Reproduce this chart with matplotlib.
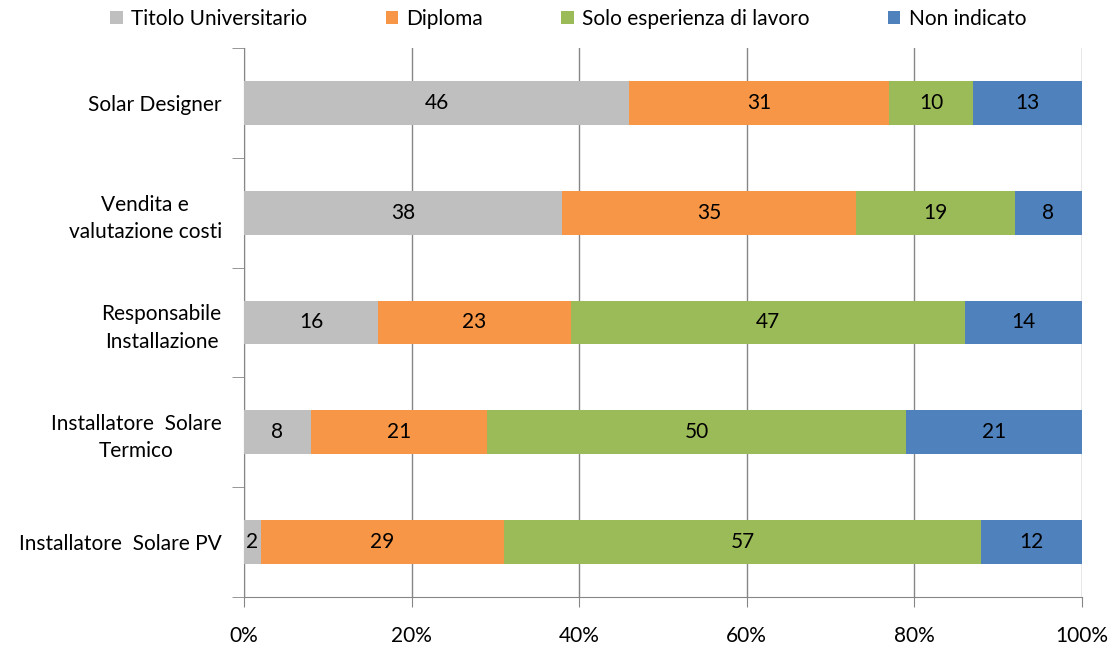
import matplotlib.pyplot as plt
import numpy as np

plt.rcParams['font.family'] = ['Lato', 'DejaVu Sans']

categories = ['Installatore  Solare PV', 'Installatore  Solare\nTermico', 'Responsabile\nInstallazione',
              'Vendita e\nvalutazione costi', 'Solar Designer']
series = ['Titolo Universitario', 'Diploma', 'Solo esperienza di lavoro', 'Non indicato']
universitario = [2, 8, 16, 38, 46]
diploma = [29, 21, 23, 35, 31]
esperienza = [57, 50, 47, 19, 10]
non_indicato = [12, 21, 14, 8, 13]
colors = ['#BFBFBF', '#F79646', '#9BBB59', '#4F81BD']

values = np.array([universitario, diploma, esperienza, non_indicato], dtype=float)

fig = plt.figure(figsize=(11.18, 6.47), dpi=100)
ax = fig.add_axes([0.2182, 0.0773, 0.7496, 0.8485])

y = np.arange(len(categories))
left = np.zeros(len(categories))
for i, name in enumerate(series):
    vals = values[i] / 100
    ax.barh(y, vals, left=left, height=0.4, color=colors[i], label=name, zorder=3)
    for j, v in enumerate(values[i]):
        ax.text(left[j] + vals[j] / 2, y[j], f'{int(v)}', ha='center', va='center',
                fontsize=15, color='black', zorder=4)
    left += vals

ax.set_xlim(0, 1)
ax.set_ylim(-0.5, len(categories) - 0.5)
ax.set_xticks(np.arange(0, 1.01, 0.2))
ax.set_xticklabels([f'{int(t * 100)}%' for t in np.arange(0, 1.01, 0.2)], fontsize=15)
ax.set_yticks(y)
ax.set_yticklabels(categories, fontsize=15, multialignment='center', linespacing=1.45)
ax.set_yticks(np.arange(-0.5, len(categories), 1), minor=True)
ax.tick_params(axis='y', which='major', length=0, pad=16)
ax.tick_params(axis='y', which='minor', length=9, color='#868686', direction='out')
ax.tick_params(axis='x', length=7, color='#868686', direction='out', pad=14)
ax.grid(axis='x', color='#868686', linewidth=1, zorder=0)
for s in ['top', 'right']:
    ax.spines[s].set_visible(False)
for s in ['left', 'bottom']:
    ax.spines[s].set_color('#868686')

ax.legend(loc='lower center', bbox_to_anchor=(0.387, 1.012), ncol=4, frameon=False, fontsize=15,
          handlelength=0.6, handleheight=0.6, handletextpad=0.4, columnspacing=3.75,
          borderaxespad=0.2)

fig.savefig('out.png', dpi=100)
